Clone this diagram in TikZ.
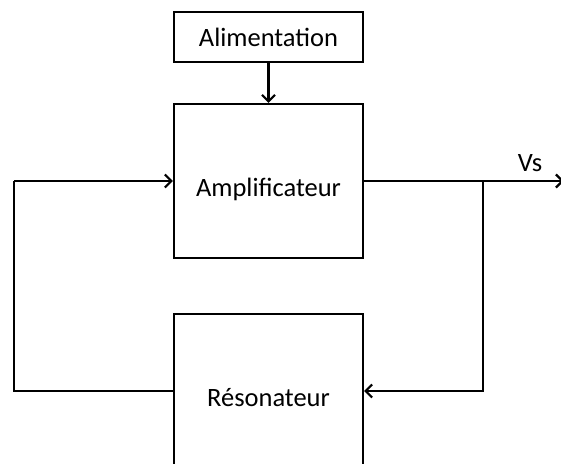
\documentclass[tikz,border=0pt]{standalone}
\usepackage{fontspec}
\setmainfont{Carlito}
\usepackage{tikz}
\usetikzlibrary{arrows.meta, positioning}

\begin{document}
\begin{tikzpicture}[
        x=1pt, y=-1pt,
        font=\fontsize{26.5}{31}\selectfont,
        blockbox/.style={rectangle, draw, line width=2.2pt, inner sep=0pt, minimum width=189pt, text depth=0pt},
        bigbox/.style={blockbox, minimum height=154pt, text height=30pt},
        arrow/.style={line width=2.2pt,-{Straight Barb[length=6.5pt,width=13pt,line width=2.2pt]}},
        wire/.style={line width=2.2pt}
        ]

        \path[use as bounding box, clip] (0,0) rectangle (561,463);

        \node (ali) [blockbox, minimum height=50pt] at (268.5,37) {Alimentation};
        \node (amp) [bigbox] at (268.5,181) {Amplificateur};
        \node (res) [bigbox] at (268.5,391) {Résonateur};

        \node (vs) at (530,163) {Vs};
        \coordinate (out) at (564,181);
        \coordinate (jct) at (483,181);
        \coordinate (lft) at (14,181);

        \draw [arrow] (ali) -- (amp);
        \draw [arrow] (amp.east) -- (out);
        \draw [arrow] (jct) |- (res.east);
        \draw [wire] (res.west) -| (lft);
        \draw [arrow] (lft) -- (amp.west);

    \end{tikzpicture}
\end{document}
